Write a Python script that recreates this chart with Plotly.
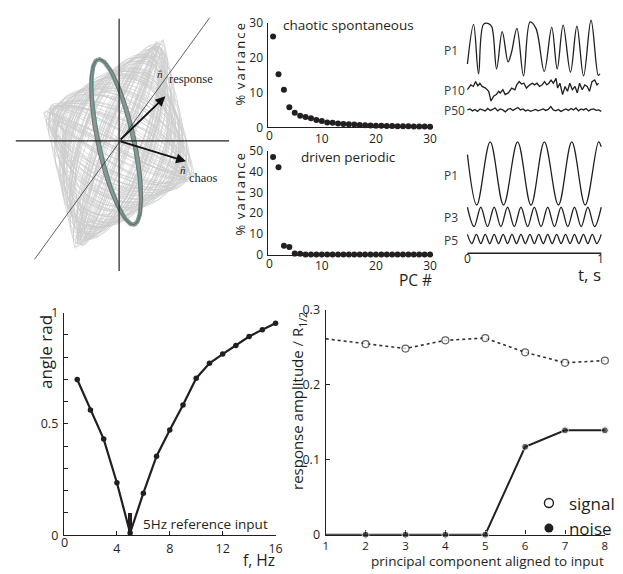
import math
import plotly.graph_objects as go

W, H = 623, 574
FONT = "Open Sans"
SERIF = "Liberation Serif"
INK = "#231f20"


def px(x):
    return x / W


def py(y):
    return 1 - y / H


# ---------------- data ----------------
pc_number = list(range(1, 31))
variance_chaotic = [26.0, 15.2, 10.8, 5.8, 4.2, 3.3, 3.0, 2.6, 2.1, 1.85,
                    1.4, 1.3, 1.1, 1.0, 0.9, 0.8, 0.7, 0.6, 0.55, 0.5,
                    0.45, 0.42, 0.38, 0.35, 0.32, 0.3, 0.28, 0.25, 0.22, 0.2]
variance_driven = [47.0, 42.0, 4.3, 3.7, 0.6, 0.5, 0.15, 0.12, 0.1, 0.1,
                   0.1, 0.1, 0.1, 0.1, 0.1, 0.1, 0.1, 0.1, 0.1, 0.1,
                   0.1, 0.1, 0.1, 0.1, 0.1, 0.1, 0.1, 0.1, 0.1, 0.1]
variance_ticks_top = [0, 10, 20, 30]
variance_ticks_bottom = [0, 10, 20, 30, 40, 50]
pc_ticks = [10, 20, 30]

freq_hz = list(range(1, 17))
angle_rad = [0.70, 0.563, 0.432, 0.236, 0.01, 0.189, 0.355, 0.473,
             0.585, 0.706, 0.773, 0.814, 0.853, 0.893, 0.924, 0.953]
reference_freq = [5]
reference_marker = [0.1]
freq_ticks = [4, 8, 12, 16]

aligned_pc = list(range(1, 9))
signal_amplitude = [0.261, 0.254, 0.248, 0.259, 0.262, 0.243, 0.229, 0.232]
noise_amplitude = [0.0, 0.0, 0.0, 0.0, 0.0, 0.117, 0.139, 0.139]

# principal-component traces (time in s, normalised amplitude)
chaos_p1_t = [0.0, 0.046, 0.083, 0.12, 0.157, 0.182, 0.218, 0.26, 0.304, 0.329,
              0.37, 0.419, 0.468, 0.512, 0.574, 0.63, 0.671, 0.715, 0.77, 0.818,
              0.868, 0.924, 0.978, 0.99]
chaos_p1 = [-0.56, 0.90, -0.92, 0.90, 0.93, 0.81, -0.74, 0.63, -0.48, -0.14,
            0.75, -1.0, 0.99, 0.75, -0.83, 0.79, -0.74, 0.87, -0.86, 0.83,
            -1.0, 1.05, -0.98, -0.92]
chaos_p10_t = [0.0, 0.025, 0.044, 0.061, 0.078, 0.093, 0.11, 0.135, 0.159, 0.176,
               0.196, 0.216, 0.233, 0.245, 0.265, 0.282, 0.306, 0.331, 0.355, 0.368,
               0.387, 0.404, 0.422, 0.441, 0.466, 0.485, 0.502, 0.52, 0.539, 0.559,
               0.576, 0.593, 0.608, 0.625, 0.642, 0.662, 0.674, 0.691, 0.711, 0.73,
               0.748, 0.765, 0.784, 0.804, 0.821, 0.838, 0.858, 0.877, 0.895, 0.912,
               0.931, 0.951, 0.968, 0.98]
chaos_p10 = [-0.17, 0.33, 0.17, 0.67, 0.23, 0.5, 0.17, 0.0, -0.33, -1.33,
             -0.83, -0.67, -0.33, -0.5, -0.17, -0.67, -0.5, 0.0, -0.17, 0.33,
             0.67, 0.43, 0.5, 0.0, 0.33, 0.5, 0.33, 0.5, 0.17, 0.33,
             0.67, 0.33, 0.5, 0.83, 0.5, 1.0, 0.0, 0.5, -0.67, 0.17,
             -0.33, 0.5, -0.17, 0.17, -0.5, 0.5, -0.17, 0.33, 0.17, -0.33,
             0.67, 0.83, 0.33, 0.5]
chaos_p50 = [0.0, 0.1, -0.1, 0.05, -0.15, 0.1, 0.0, -0.1, 0.15, -0.05,
             0.05, 0.2, -0.1, 0.1, 0.0, -0.2, 0.05, 0.15, -0.05, 0.1,
             0.25, 0.0, 0.1, -0.1, 0.0, -0.15, -0.05, 0.05, -0.1, 0.0,
             0.1, -0.05, 0.05, 0.35, 0.0, -0.1, 0.05, -0.15, 0.0, 0.1,
             -0.05, 0.15, 0.0, 0.2, -0.1, 0.1, 0.0, 0.15, -0.1, 0.05,
             0.1, -0.05, 0.0, -0.15]
driven_p1_t = [0.0, 0.07, 0.17, 0.27, 0.375, 0.475, 0.575, 0.68, 0.78, 0.88, 0.98, 1.0]
driven_p1 = [0.6, -1.0, 1.0, -1.0, 1.0, -1.0, 1.0, -1.0, 1.0, -1.0, 1.0, 0.85]
driven_p3_t = [0.0, 0.05, 0.1, 0.15, 0.2, 0.25, 0.3, 0.35, 0.4, 0.45, 0.5,
               0.55, 0.6, 0.65, 0.7, 0.75, 0.8, 0.85, 0.9, 0.95, 1.0]
driven_p3 = [1.0, -1.0, 1.0, -1.0, 1.0, -1.0, 1.0, -1.0, 1.0, -1.0, 1.0,
             -1.0, 1.0, -1.0, 1.0, -1.0, 1.0, -1.0, 1.0, -1.0, 1.0]
driven_p5_t = [0.0, 0.033, 0.067, 0.1, 0.133, 0.167, 0.2, 0.233, 0.267, 0.3,
               0.333, 0.367, 0.4, 0.433, 0.467, 0.5, 0.533, 0.567, 0.6, 0.633,
               0.667, 0.7, 0.733, 0.767, 0.8, 0.833, 0.867, 0.9, 0.933, 0.967, 1.0]
driven_p5 = [1.0, -1.0, 1.0, -1.0, 1.0, -1.0, 1.0, -1.0, 1.0, -1.0,
             1.0, -1.0, 1.0, -1.0, 1.0, -1.0, 1.0, -1.0, 1.0, -1.0,
             1.0, -1.0, 1.0, -1.0, 1.0, -1.0, 1.0, -1.0, 1.0, -1.0, 1.0]

# phase-space sketch: chaotic cloud loops (amp_s, amp_r, freq_s, freq_r, phase)
cloud_loops = [
    (0.95, 0.92, 5, 6, 0.3),
    (0.90, 0.97, 7, 6, 1.1),
    (0.98, 0.85, 4, 5, 2.0),
    (0.85, 0.95, 9, 8, 0.7),
    (0.92, 0.90, 6, 7, 2.6),
    (0.80, 0.88, 8, 9, 1.7),
    (0.97, 0.80, 3, 4, 0.9),
    (0.88, 0.99, 10, 11, 0.2),
    (0.93, 0.94, 11, 12, 1.4),
    (0.78, 0.92, 5, 4, 2.3),
    (0.99, 0.96, 12, 13, 0.5),
]
cloud_center = (0.0, -3.0)
cloud_axis_1 = (61.5, 38.0)
cloud_axis_2 = (16.5, -73.0)
orbit_center = (-3.0, -1.0)
orbit_semi_major = 87.0
orbit_semi_minor = 18.0
orbit_tilt_deg = 102.0
n_response = (47, 46)
n_chaos = (68, -21)

fig = go.Figure()

# ---------------- panel A: phase-space sketch ----------------
N = 800
for (a, b, fs, fr, ph) in cloud_loops:
    xs, ys = [], []
    for k in range(N + 1):
        t = 2 * math.pi * k / N
        s = a * math.sin(fs * t + ph)
        r = b * math.sin(fr * t)
        xs.append(cloud_center[0] + s * cloud_axis_1[0] + r * cloud_axis_2[0])
        ys.append(cloud_center[1] + s * cloud_axis_1[1] + r * cloud_axis_2[1])
    fig.add_trace(go.Scatter(x=xs, y=ys, mode="lines", xaxis="x", yaxis="y",
                             line=dict(color="#cbcbcb", width=0.7),
                             hoverinfo="skip", showlegend=False))


def orbit(semi_minor):
    th0 = math.radians(orbit_tilt_deg)
    u = (math.cos(th0), math.sin(th0))
    w = (-math.sin(th0), math.cos(th0))
    xs, ys = [], []
    for k in range(241):
        t = 2 * math.pi * k / 240
        xs.append(orbit_center[0] + orbit_semi_major * math.cos(t) * u[0] + semi_minor * math.sin(t) * w[0])
        ys.append(orbit_center[1] + orbit_semi_major * math.cos(t) * u[1] + semi_minor * math.sin(t) * w[1])
    return xs, ys


for sm, col, wd in [(orbit_semi_minor, "#8e9695", 4.5),
                    (orbit_semi_minor - 1.8, "#4f8d83", 1.1),
                    (orbit_semi_minor + 2.2, "#5e6362", 0.8)]:
    ox, oy = orbit(sm)
    fig.add_trace(go.Scatter(x=ox, y=oy, mode="lines", xaxis="x", yaxis="y",
                             line=dict(color=col, width=wd),
                             hoverinfo="skip", showlegend=False))

shapes = []
for (x0, y0, x1, y1, wd) in [(0, 126, 0, -134, 1.2), (-105, 0, 112, 0, 1.2), (-86, -122, 92, 127, 0.7)]:
    shapes.append(dict(type="line", xref="x", yref="y", x0=x0, y0=y0, x1=x1, y1=y1,
                       line=dict(color=INK, width=wd), layer="above"))

annotations = []
for vec in (n_response, n_chaos):
    annotations.append(dict(x=vec[0], y=vec[1], ax=0, ay=0, xref="x", yref="y",
                            axref="x", ayref="y", text="", showarrow=True,
                            arrowhead=2, arrowsize=1.1, arrowwidth=1.8, arrowcolor="#111"))


def txt(x, y, s, size, xanchor="left", yanchor="middle", family=FONT, angle=0, color=INK):
    annotations.append(dict(x=px(x), y=py(y), xref="paper", yref="paper", text=s,
                            showarrow=False, xanchor=xanchor, yanchor=yanchor,
                            textangle=angle, font=dict(family=family, size=size, color=color)))


txt(160, 67, "<i>n\u0302</i>", 11, "center", family=SERIF)
txt(167, 72, "response", 12.5, family=SERIF)
txt(183, 166, "<i>n\u0302</i>", 11, "center", family=SERIF)
txt(187, 174, "chaos", 12.5, family=SERIF)

# ---------------- panel B: variance spectra ----------------
fig.add_trace(go.Scatter(x=pc_number, y=variance_chaotic, mode="markers", xaxis="x2", yaxis="y2",
                         marker=dict(color=INK, size=6), cliponaxis=False, showlegend=False))
fig.add_trace(go.Scatter(x=pc_number, y=variance_driven, mode="markers", xaxis="x3", yaxis="y3",
                         marker=dict(color=INK, size=6), cliponaxis=False, showlegend=False))
spaced = "%\u2009 v\u2009a\u2009r\u2009i\u2009a\u2009n\u2009c\u2009e"
txt(241, 57, spaced, 13, "center", angle=-90)
txt(241, 191, spaced, 13, "center", angle=-90)
txt(283, 17, "chaotic spontaneous", 13.5)
txt(301, 153, "driven periodic", 13.5)
txt(438, 279, "PC #", 15.5, "right")
txt(271, 130, "0", 12, "center")
txt(271, 262, "0", 12, "center")

# ---------------- panel C: PC traces ----------------
rows = [
    (chaos_p1_t, chaos_p1, 41.0, 28.0, "spline", "P1", 43),
    (chaos_p10_t, chaos_p10, 81.5, 10.0, "linear", "P10", 84),
    ([i / (len(chaos_p50) - 1) for i in range(len(chaos_p50))], chaos_p50, 104.0, 10.0, "linear", "P50", 104.5),
    (driven_p1_t, driven_p1, 169.5, 32.5, "spline", "P1", 171.5),
    (driven_p3_t, driven_p3, 214.3, 10.0, "spline", "P3", 215),
    (driven_p5_t, driven_p5, 237.0, 4.7, "spline", "P5", 239),
]
for (tt, vv, base, amp, shape, label, ly) in rows:
    fig.add_trace(go.Scatter(x=tt, y=[base - amp * v for v in vv], mode="lines", xaxis="x4", yaxis="y4",
                             line=dict(color=INK, width=1.3, shape=shape, smoothing=1.0),
                             hoverinfo="skip", showlegend=False, cliponaxis=False))
    txt(446, ly, label, 12, color="#3a3a3a")
shapes.append(dict(type="line", xref="x4", yref="y4", x0=0, x1=1, y0=251.7, y1=251.7,
                   line=dict(color=INK, width=1.5)))
txt(472, 257.5, "0", 12, "center")
txt(607, 257.5, "1", 12, "center")
txt(610, 274, "t, s", 17, "right")

# ---------------- panel D: angle vs frequency ----------------
fig.add_trace(go.Bar(x=reference_freq, y=reference_marker, xaxis="x5", yaxis="y5", width=0.35,
                     marker=dict(color=INK, line=dict(width=0)), showlegend=False, hoverinfo="skip"))
fig.add_trace(go.Scatter(x=freq_hz, y=angle_rad, mode="lines+markers", xaxis="x5", yaxis="y5",
                         line=dict(color=INK, width=2.2), marker=dict(color=INK, size=5.5),
                         cliponaxis=False, showlegend=False))
txt(43, 313, "angle rad", 17, "center", "top", angle=-90)
txt(278, 568, "f, Hz", 15.5, "right")
txt(140, 531, "5Hz reference input", 13.5)
txt(63, 550, "0", 12.5, "center")

# ---------------- panel E: response amplitude ----------------
fig.add_trace(go.Scatter(x=aligned_pc, y=signal_amplitude, mode="lines+markers", xaxis="x6", yaxis="y6",
                         line=dict(color="#333333", width=1.6, dash="dot"),
                         marker=dict(color="white", size=[0, 7, 7, 7, 7, 7, 7, 7], line=dict(color=INK, width=1.2)),
                         cliponaxis=False, showlegend=False))
fig.add_trace(go.Scatter(x=aligned_pc, y=noise_amplitude, mode="lines+markers", xaxis="x6", yaxis="y6",
                         line=dict(color=INK, width=2), marker=dict(color=INK, size=[0, 7, 7, 7, 7, 7, 7, 7]),
                         cliponaxis=False, showlegend=False))
fig.add_trace(go.Scatter(x=[None], y=[None], mode="markers", name="signal", xaxis="x6", yaxis="y6",
                         marker=dict(color="white", size=9, line=dict(color=INK, width=1.4))))
fig.add_trace(go.Scatter(x=[None], y=[None], mode="markers", name="noise", xaxis="x6", yaxis="y6",
                         marker=dict(color=INK, size=9)))
txt(300, 310, "response amplitude / R<sub>1/2</sub>", 15, "center", "top", angle=-90)
txt(613, 569, "principal component aligned to input", 13.5, "right")

# ---------------- axes ----------------
hidden = dict(visible=False, showgrid=False, zeroline=False, fixedrange=True)


def sci_axis(domain, rng, tickvals, anchor, ticktext=None, ticks="", ticklen=0, size=12.5, standoff=2):
    d = dict(domain=domain, range=rng, anchor=anchor, showline=True, linecolor=INK, linewidth=1.4,
             showgrid=False, zeroline=False, tickvals=tickvals, ticks=ticks, ticklen=ticklen,
             tickcolor=INK, tickwidth=1, tickfont=dict(family=FONT, size=size, color=INK),
             fixedrange=True, layer="below traces", ticklabelstandoff=standoff)
    if ticktext is not None:
        d["ticktext"] = ticktext
    return d


layout = dict(
    width=W, height=H, margin=dict(l=0, r=0, t=0, b=0),
    paper_bgcolor="white", plot_bgcolor="rgba(0,0,0,0)",
    font=dict(family=FONT, color=INK),
    xaxis=dict(domain=[0, px(230)], range=[-118, 112], anchor="y", **hidden),
    yaxis=dict(domain=[py(290), 1], range=[-154, 136], anchor="x", **hidden),
    xaxis2=sci_axis([px(269), px(436.75)], [0, 30.5], pc_ticks, "y2", size=12, standoff=0),
    yaxis2=sci_axis([py(122), py(14)], [0, 30], variance_ticks_top, "x2", size=12, standoff=1),
    xaxis3=sci_axis([px(269), px(436.75)], [0, 30.5], pc_ticks, "y3", size=12, standoff=0),
    yaxis3=sci_axis([py(253.3), py(146)], [0, 50], variance_ticks_bottom, "x3", size=12, standoff=1),
    xaxis4=dict(domain=[px(440), 1], range=[(440 - 472) / 136, (623 - 472) / 136], anchor="y4", **hidden),
    yaxis4=dict(domain=[py(290), 1], range=[290, 0], anchor="x4", **hidden),
    xaxis5=sci_axis([px(62), px(277)], [0, 16], freq_ticks, "y5", ticks="inside", ticklen=4),
    yaxis5=sci_axis([py(542.3), py(313)], [0, 1], [i / 10 for i in range(11)], "x5",
                    ["0", "", "", "", "", "0.5", "", "", "", "", "1"], ticks="inside", ticklen=4),
    xaxis6=sci_axis([px(328), px(611.7)], [1, 8], aligned_pc, "y6", ticks="inside", ticklen=4, size=11.5, standoff=0),
    yaxis6=sci_axis([py(541.7), py(309.7)], [0, 0.3], [0, 0.1, 0.2, 0.3], "x6", ticks="inside", ticklen=4),
    showlegend=True,
    legend=dict(x=px(627), y=py(491), xanchor="right", yanchor="top", bgcolor="rgba(0,0,0,0)",
                font=dict(family=FONT, size=17, color=INK), itemwidth=30, tracegroupgap=0),
    shapes=shapes, annotations=annotations, bargap=0,
)
fig.update_layout(**layout)
fig.write_html("out.html", config={"displayModeBar": False})
